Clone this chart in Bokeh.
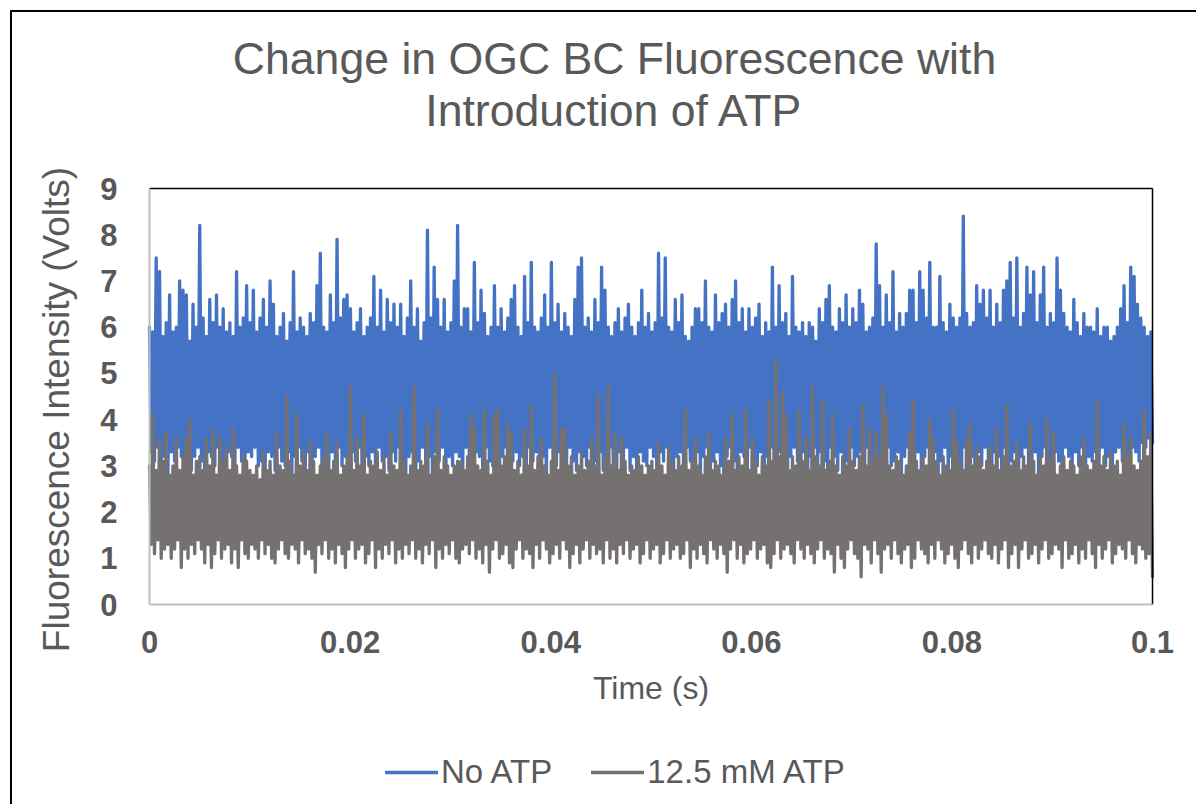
import numpy as np
from bokeh.plotting import figure
from bokeh.models import (ColumnDataSource, Range1d, FixedTicker, Label, Legend, LegendItem)
from bokeh.embed import file_html
from bokeh.resources import INLINE

# ---- data ----
# Time axis of the recording (seconds)
t_start, t_end = 0.0, 0.1

# "No ATP" trace: alternating local maxima / minima (Volts)
no_atp_highs = [
    6.0, 5.9, 7.5, 7.2, 5.8, 6.1, 6.7, 5.9, 6.0, 7.0,
    6.8, 6.7, 5.7, 6.5, 6.0, 8.2, 6.2, 5.8, 6.6, 6.1,
    6.7, 6.0, 6.4, 5.9, 6.1, 5.8, 7.2, 6.0, 6.2, 6.9,
    6.1, 6.8, 5.9, 6.2, 6.6, 6.0, 7.0, 6.5, 5.8, 6.0,
    6.3, 5.7, 6.1, 7.2, 5.9, 6.2, 6.0, 5.8, 6.3, 6.1,
    6.9, 7.6, 6.0, 5.9, 6.7, 6.1, 7.9, 6.2, 6.6, 6.7,
    6.4, 5.9, 6.1, 6.4, 5.8, 6.0, 6.2, 7.1, 6.0, 6.8,
    5.9, 6.6, 6.1, 6.5, 6.0, 6.5, 5.8, 6.2, 7.0, 6.0,
    6.4, 5.7, 6.1, 8.1, 6.2, 7.3, 6.6, 6.0, 6.6, 5.9,
    6.1, 7.0, 8.2, 6.0, 6.4, 6.4, 5.9, 7.4, 6.1, 6.8,
    6.3, 5.8, 6.0, 6.9, 6.0, 6.4, 5.9, 6.2, 6.6, 6.9,
    6.0, 5.8, 7.1, 6.1, 7.4, 6.0, 5.9, 6.2, 6.7, 6.0,
    7.4, 6.1, 6.5, 5.9, 6.3, 6.0, 5.8, 6.6, 7.3, 7.5,
    6.0, 6.2, 5.9, 6.6, 6.1, 7.3, 6.8, 6.0, 5.8, 6.1,
    6.4, 5.9, 6.2, 6.5, 6.0, 5.8, 6.1, 6.8, 6.0, 6.3,
    5.9, 6.1, 7.6, 6.2, 7.5, 6.0, 5.9, 6.6, 6.1, 6.7,
    5.8, 5.7, 6.0, 6.4, 6.4, 6.1, 7.0, 6.0, 5.9, 6.7,
    6.1, 6.3, 6.5, 6.0, 6.6, 7.0, 6.1, 6.4, 5.9, 6.4,
    6.0, 6.2, 6.5, 5.8, 6.1, 5.9, 7.3, 6.0, 6.9, 6.1,
    6.3, 5.8, 7.1, 6.0, 5.9, 6.1, 5.8, 6.1, 6.0, 5.7,
    6.4, 6.1, 6.6, 6.9, 6.0, 5.9, 6.4, 6.1, 6.7, 6.0,
    6.4, 6.1, 6.8, 6.5, 5.9, 6.0, 6.2, 7.8, 6.9, 6.0,
    6.7, 6.1, 7.2, 5.9, 6.3, 6.0, 6.3, 6.8, 6.8, 6.1,
    7.2, 6.8, 6.2, 7.4, 6.0, 6.0, 7.1, 6.1, 5.9, 6.5,
    6.2, 6.0, 6.2, 8.4, 6.3, 6.0, 6.1, 6.9, 6.5, 6.8,
    6.2, 6.8, 6.0, 6.5, 6.1, 6.8, 7.0, 7.4, 6.2, 7.5,
    6.0, 6.3, 7.3, 6.7, 7.2, 6.1, 6.7, 7.3, 6.0, 6.3,
    6.1, 7.5, 6.8, 6.3, 6.0, 5.9, 6.6, 6.1, 5.8, 6.3,
    6.0, 6.0, 5.9, 6.4, 5.8, 6.0, 6.0, 5.7, 5.8, 6.0,
    6.4, 6.9, 6.1, 7.3, 7.1, 6.5, 6.2, 6.0, 5.8, 5.9,
]
no_atp_lows = [
    3.3, 3.1, 3.4, 3.0, 3.2, 2.8, 3.3, 3.1, 3.4, 3.2,
    3.0, 3.3, 2.9, 3.2, 3.4, 3.1, 2.7, 3.3, 3.2, 3.0,
    3.4, 3.1, 2.8, 3.3, 3.2, 3.0, 3.4, 3.1, 2.9, 3.3,
    3.2, 3.4, 3.0, 3.1, 2.7, 3.3, 3.2, 2.9, 3.4, 3.1,
    3.0, 3.3, 2.8, 3.2, 3.4, 3.1, 2.9, 3.3, 2.7, 3.2,
    3.4, 3.0, 3.2, 2.8, 3.3, 3.1, 3.4, 3.0, 3.2, 2.9,
    3.3, 3.1, 3.4, 2.7, 3.2, 3.0, 3.3, 2.8, 3.4, 3.1,
    3.2, 2.9, 3.3, 3.1, 3.4, 3.0, 2.7, 3.2, 3.3, 2.9,
    3.1, 3.4, 3.0, 3.2, 2.8, 3.3, 3.1, 3.4, 2.9, 3.2,
    3.0, 3.3, 3.2, 2.7, 3.4, 3.1, 2.9, 3.3, 3.2, 2.8,
    3.4, 3.1, 3.0, 3.3, 2.7, 3.2, 3.4, 2.9, 3.1, 3.3,
    3.0, 3.2, 2.8, 3.4, 3.1, 3.3, 2.9, 3.2, 2.7, 3.4,
    3.1, 3.0, 3.3, 3.2, 2.8, 3.4, 3.1, 2.9, 3.3, 3.2,
    3.0, 3.4, 2.7, 3.1, 3.3, 2.9, 3.2, 3.4, 3.0, 2.8,
    3.3, 3.1, 3.4, 2.9, 3.2, 2.7, 3.3, 3.1, 3.0, 3.4,
    3.2, 2.8, 3.3, 3.1, 3.4, 3.0, 2.9, 3.2, 3.3, 2.7,
    3.4, 3.1, 3.0, 3.3, 2.8, 3.2, 3.4, 2.9, 3.1, 3.3,
    3.0, 2.7, 3.2, 3.4, 3.1, 2.9, 3.3, 3.2, 2.8, 3.4,
    3.1, 3.0, 3.3, 2.7, 3.2, 3.4, 2.9, 3.1, 3.3, 3.0,
    2.8, 3.2, 3.4, 3.1, 2.9, 3.3, 2.7, 3.2, 3.4, 3.0,
    3.3, 3.1, 2.8, 3.4, 3.2, 2.9, 3.3, 2.7, 3.1, 3.4,
    3.0, 3.2, 3.3, 2.8, 3.4, 3.1, 2.9, 3.2, 2.7, 3.3,
    3.4, 3.0, 3.1, 3.3, 2.8, 3.2, 3.4, 2.9, 3.1, 3.3,
    2.7, 3.2, 3.4, 3.0, 3.3, 2.8, 3.1, 3.4, 2.9, 3.2,
    3.3, 3.0, 2.7, 3.4, 3.1, 3.2, 2.8, 3.3, 3.0, 3.4,
    3.1, 2.9, 3.3, 3.2, 2.7, 3.4, 3.0, 3.1, 3.3, 2.8,
    3.2, 3.4, 2.9, 3.1, 3.3, 2.7, 3.2, 3.4, 3.0, 2.8,
    3.3, 3.1, 2.7, 3.4, 3.2, 2.9, 3.3, 3.0, 3.4, 2.8,
    3.2, 3.1, 3.3, 2.9, 3.4, 3.0, 3.2, 2.8, 3.3, 3.4,
    3.1, 3.2, 3.0, 3.4, 3.3, 3.1, 3.5, 3.4, 3.6, 3.5,
]

# "12.5 mM ATP" trace: alternating local maxima / minima (Volts)
atp_highs = [
    3.0, 4.1, 2.9, 3.6, 3.1, 3.7, 2.8, 3.0, 3.6, 2.9,
    3.2, 3.6, 4.0, 2.8, 3.1, 3.2, 2.9, 3.6, 3.0, 3.8,
    2.8, 3.6, 3.1, 3.4, 2.9, 3.8, 3.0, 2.8, 3.2, 3.1,
    2.9, 2.8, 3.0, 2.7, 3.3, 2.9, 3.1, 2.8, 3.7, 3.0,
    2.9, 4.5, 3.1, 2.8, 4.1, 3.0, 3.3, 2.9, 3.5, 3.1,
    2.8, 3.0, 3.2, 3.7, 2.9, 3.1, 3.5, 2.8, 3.0, 3.2,
    4.7, 2.9, 3.6, 3.0, 4.1, 2.8, 3.1, 3.0, 3.3, 2.9,
    3.2, 2.8, 3.7, 3.0, 2.9, 4.2, 3.1, 2.8, 3.0, 4.7,
    2.9, 3.1, 3.0, 3.9, 2.8, 3.2, 4.2, 2.9, 3.2, 3.0,
    2.8, 3.0, 3.1, 3.1, 2.9, 3.2, 4.1, 3.8, 3.0, 2.9,
    4.2, 3.1, 2.8, 4.1, 4.2, 3.0, 3.2, 3.9, 3.7, 2.9,
    3.1, 2.8, 3.8, 3.0, 4.3, 2.9, 3.2, 3.6, 3.0, 2.8,
    3.1, 5.0, 2.9, 3.8, 3.8, 3.0, 3.2, 2.8, 3.0, 3.3,
    2.9, 3.1, 3.6, 3.0, 4.5, 2.8, 3.2, 4.7, 3.0, 3.7,
    2.9, 3.6, 3.1, 2.8, 3.0, 2.9, 3.2, 3.0, 2.8, 3.0,
    3.1, 2.9, 3.5, 3.0, 2.8, 3.4, 3.1, 2.9, 3.2, 3.0,
    4.2, 2.9, 3.1, 3.6, 3.0, 2.8, 3.2, 3.7, 2.9, 3.1,
    3.0, 2.8, 3.6, 3.1, 4.1, 2.9, 3.2, 3.0, 4.2, 2.9,
    3.6, 3.1, 2.8, 3.2, 3.0, 4.4, 3.1, 5.3, 3.2, 4.6,
    4.1, 2.9, 3.2, 3.0, 4.2, 3.1, 3.6, 2.9, 4.7, 3.2,
    3.0, 4.4, 2.9, 3.1, 4.1, 3.0, 2.8, 3.2, 3.0, 3.8,
    3.1, 2.9, 3.2, 4.3, 3.0, 3.8, 3.1, 3.7, 3.2, 4.7,
    4.1, 3.0, 2.9, 3.2, 3.1, 2.8, 3.0, 3.7, 4.4, 3.1,
    2.9, 3.2, 3.0, 4.0, 3.6, 3.1, 2.8, 3.2, 3.0, 2.9,
    4.2, 3.5, 3.1, 2.9, 3.6, 3.9, 3.0, 3.4, 3.2, 2.9,
    3.1, 3.4, 3.0, 3.8, 2.9, 3.2, 4.3, 3.0, 3.1, 3.5,
    2.9, 3.2, 3.0, 3.9, 3.1, 2.8, 3.2, 3.0, 4.0, 3.1,
    3.7, 2.8, 3.0, 3.2, 2.9, 3.1, 3.0, 2.8, 3.2, 3.6,
    3.0, 2.9, 3.1, 4.4, 3.0, 3.2, 2.9, 3.3, 3.0, 3.1,
    2.8, 3.9, 3.2, 3.6, 3.0, 2.9, 3.1, 4.2, 3.2, 3.7,
]
atp_lows = [
    1.3, 1.1, 1.4, 1.0, 1.2, 1.3, 1.0, 1.2, 1.4, 0.8,
    1.2, 1.0, 1.3, 1.1, 1.4, 1.2, 0.9, 1.3, 0.8, 1.1,
    1.4, 1.0, 1.2, 1.3, 0.9, 1.2, 0.8, 1.4, 1.1, 1.0,
    1.3, 1.2, 1.0, 1.4, 1.1, 1.3, 1.0, 0.9, 1.2, 1.4,
    1.1, 1.0, 1.3, 1.2, 0.9, 1.4, 1.1, 1.2, 1.0, 0.7,
    1.3, 1.1, 1.4, 1.0, 1.2, 0.9, 1.3, 1.1, 0.8, 1.2,
    1.4, 1.0, 1.2, 1.3, 0.9, 1.1, 1.4, 0.8, 1.2, 1.0,
    1.3, 1.1, 1.4, 0.9, 1.2, 1.0, 1.3, 1.1, 1.4, 1.0,
    1.2, 0.9, 1.3, 1.1, 1.4, 0.8, 1.2, 1.0, 1.3, 1.1,
    1.4, 1.0, 0.9, 1.2, 1.3, 1.1, 1.4, 1.0, 1.2, 0.9,
    1.3, 0.7, 1.2, 1.4, 1.0, 1.1, 1.3, 0.9, 0.8, 1.2,
    1.4, 1.0, 1.2, 1.1, 0.8, 1.3, 1.0, 1.4, 1.2, 0.9,
    1.1, 1.3, 1.0, 1.4, 1.2, 0.8, 1.1, 1.3, 0.9, 1.2,
    1.4, 1.0, 1.3, 1.1, 1.2, 0.9, 1.4, 1.0, 1.2, 0.9,
    1.3, 1.1, 1.4, 1.0, 1.2, 1.3, 0.9, 1.1, 1.4, 1.0,
    1.2, 1.3, 0.9, 1.1, 1.4, 1.0, 1.2, 1.3, 1.0, 1.1,
    1.4, 0.8, 1.2, 1.0, 1.3, 1.1, 0.9, 1.4, 1.2, 1.0,
    1.3, 1.1, 0.7, 1.2, 1.4, 1.0, 1.3, 0.9, 1.1, 1.2,
    1.4, 1.0, 1.2, 1.3, 0.9, 0.8, 1.1, 1.4, 1.0, 1.2,
    1.3, 1.1, 0.9, 1.4, 1.2, 1.0, 1.3, 1.1, 0.9, 1.2,
    1.4, 1.0, 1.2, 1.1, 0.7, 1.3, 1.0, 0.8, 1.2, 1.4,
    1.1, 1.0, 0.6, 1.3, 1.2, 0.9, 1.4, 1.1, 0.7, 1.2,
    1.3, 1.0, 1.4, 1.1, 0.9, 1.2, 1.3, 0.8, 1.0, 1.4,
    1.2, 1.1, 0.9, 1.3, 1.0, 1.4, 1.2, 0.9, 1.1, 1.3,
    1.0, 0.8, 1.2, 1.4, 1.1, 0.9, 1.3, 1.0, 1.2, 1.4,
    1.1, 1.0, 1.3, 0.9, 1.2, 1.4, 0.8, 1.1, 1.3, 0.8,
    1.2, 1.4, 1.0, 1.1, 1.3, 0.9, 1.2, 1.4, 1.0, 1.1,
    1.3, 1.2, 0.8, 1.4, 1.0, 1.1, 1.3, 0.9, 1.2, 1.0,
    1.4, 1.1, 0.8, 1.3, 1.0, 1.2, 1.4, 0.9, 1.1, 1.3,
    1.2, 1.0, 1.4, 1.1, 0.9, 1.3, 1.2, 1.0, 1.1, 0.6,
]

x_ticks = [0.0, 0.02, 0.04, 0.06, 0.08, 0.1]
x_tick_labels = ["0", "0.02", "0.04", "0.06", "0.08", "0.1"]
y_ticks = [0, 1, 2, 3, 4, 5, 6, 7, 8, 9]
series_names = ["No ATP", "12.5 mM ATP"]
series_colors = ["#4472C4", "#767171"]
title_lines = ["Change in OGC BC Fluorescence with", "Introduction of ATP"]
x_title = "Time (s)"
y_title = "Fluorescence Intensity (Volts)"

# ---- build the traces (interleave maxima and minima in time order) ----
def interleave(highs, lows):
    out = []
    for h, l in zip(highs, lows):
        out.append(h)
        out.append(l)
    return out

blue_y = interleave(no_atp_highs, no_atp_lows)
gray_y = interleave(atp_highs, atp_lows)
t = np.linspace(t_start, t_end, len(blue_y))

src_blue = ColumnDataSource(dict(t=t, v=blue_y))
src_gray = ColumnDataSource(dict(t=t, v=gray_y))

# ---- layout (page pixels) ----
W, H = 1186, 794                 # canvas, placed at page (12, 12)
CX0, CY0 = 12, 12
PX0, PX1 = 149, 1152             # page x of the plot-area left / right edge
PY0, PY1 = 604, 188              # page y of the plot-area bottom / top edge
xmin, xmax = x_ticks[0], x_ticks[-1]
ymin, ymax = y_ticks[0], y_ticks[-1]
kx = (xmax - xmin) / (PX1 - PX0)
ky = (ymax - ymin) / (PY0 - PY1)
x_range = Range1d(xmin - (PX0 - CX0) * kx, xmax + (CX0 + W - PX1) * kx)
y_range = Range1d(ymin - (CY0 + H - PY0) * ky, ymax + (PY1 - CY0) * ky)

FONT = "Liberation Sans"
TXT = "#595959"

p = figure(width=W, height=H, output_backend="svg", toolbar_location=None,
           x_range=x_range, y_range=y_range,
           min_border_left=0, min_border_right=0, min_border_top=0, min_border_bottom=0,
           background_fill_color="white", border_fill_color="white")
p.styles = {"margin-left": "10px", "margin-top": "10px",
            "border-left": "2px solid #000000", "border-top": "2px solid #000000"}
p.outline_line_color = None
p.xgrid.visible = False
p.ygrid.visible = False

r_blue = p.line("t", "v", source=src_blue, line_color=series_colors[0], line_width=3.3,
                line_join="round", line_cap="round")
r_gray = p.line("t", "v", source=src_gray, line_color=series_colors[1], line_width=3.3,
                line_join="round", line_cap="round")

# plot-area border: black top and right edges
p.segment(x0=[xmin, xmax], y0=[ymax, ymin], x1=[xmax, xmax], y1=[ymax, ymax],
          line_color="#000000", line_width=1.5)

for ax in (p.xaxis[0], p.yaxis[0]):
    ax.fixed_location = 0
    ax.axis_line_color = "#BFBFBF"
    ax.axis_line_width = 2
    ax.major_tick_line_color = None
    ax.minor_tick_line_color = None
    ax.major_tick_out = 0
    ax.major_tick_in = 0
    ax.major_label_text_font = FONT
    ax.major_label_text_font_style = "bold"
    ax.major_label_text_font_size = "31px"
    ax.major_label_text_color = TXT
    ax.axis_label_text_font = FONT
    ax.axis_label_text_font_style = "normal"
    ax.axis_label_text_color = TXT

p.xaxis[0].bounds = (xmin, xmax)
p.xaxis[0].ticker = FixedTicker(ticks=x_ticks)
p.xaxis[0].major_label_overrides = {tv: lab for tv, lab in zip(x_ticks, x_tick_labels)}
p.xaxis[0].major_label_standoff = 26
p.xaxis[0].axis_label = x_title
p.xaxis[0].axis_label_text_font_size = "32px"
p.xaxis[0].axis_label_standoff = 14

p.yaxis[0].bounds = (ymin, ymax)
p.yaxis[0].ticker = FixedTicker(ticks=y_ticks)
p.yaxis[0].major_label_standoff = 32

# y-axis title as a rotated label (centred where the original has it)
p.add_layout(Label(x=56 - CX0, y=CY0 + H - 409, x_units="screen", y_units="screen",
                   text=y_title, angle=np.pi / 2, text_align="center", text_baseline="middle",
                   text_font=FONT, text_font_size="37px", text_color=TXT))

# title (two centred lines), screen units from the canvas bottom-left
for txt, cy in zip(title_lines, [58, 110]):
    p.add_layout(Label(x=614 - CX0, y=CY0 + H - cy, x_units="screen", y_units="screen",
                       text=txt, text_align="center", text_baseline="middle",
                       text_font=FONT, text_font_size="44.6px", text_color=TXT))

legend = Legend(items=[LegendItem(label=series_names[0], renderers=[r_blue]),
                       LegendItem(label=series_names[1], renderers=[r_gray])],
                location=(385 - CX0, CY0 + H - 791), orientation="horizontal",
                label_text_font=FONT, label_text_font_size="33px", label_text_color=TXT,
                glyph_width=53, glyph_height=20, label_standoff=3, spacing=39,
                padding=0, margin=0, border_line_color=None, background_fill_alpha=0)
p.add_layout(legend, "center")

open("out.html", "w").write(file_html(p, INLINE))
